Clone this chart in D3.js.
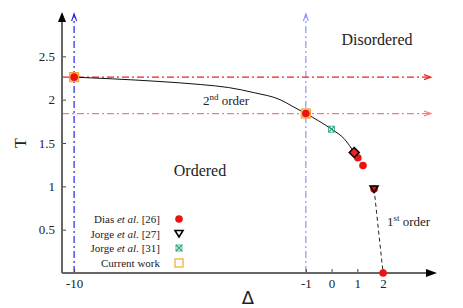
<!DOCTYPE html>
<html>
<head>
<meta charset="utf-8">
<script src="https://cdn.jsdelivr.net/npm/d3@7"></script>
<style>
  body { margin: 0; background: #fff; }
  text { font-family: "Liberation Serif", "Times New Roman", serif; fill: #222; }
</style>
</head>
<body>
<div id="my_dataviz"></div>
<script>
// phase diagram data
var xTicks = [-10, -1, 0, 1, 2];
var yTicks = [0.5, 1, 1.5, 2, 2.5];

// 2nd order line
var lineDelta = [-10, -8.5, -6.7, -5.1, -4, -3, -2, -1.5, -1, -0.5, 0, 0.5, 0.88];
var lineT     = [2.26, 2.24, 2.21, 2.175, 2.14, 2.08, 2.0, 1.92, 1.84, 1.755, 1.66, 1.545, 1.39];

// 1st order line
var firstDelta = [1.65, 2.0];
var firstT     = [0.97, 0.0];

var diasDelta = [-10, -1, 1.02, 1.22, 1.65, 2.0];
var diasT     = [2.26, 1.84, 1.33, 1.24, 0.97, 0.0];
var jorge27Delta = [1.65];
var jorge27T     = [0.97];
var jorge31Delta = [0];
var jorge31T     = [1.66];
var currentDelta = [-10, -1];
var currentT     = [2.26, 1.84];
var tcpDelta = [0.88];
var tcpT     = [1.39];

// dash-dot guide lines
var guideDelta = [-10, -1];
var guideT = [2.26, 1.84];

var legendNames = ["Dias et al. [26]", "Jorge et al. [27]", "Jorge et al. [31]", "Current work"];

var margin = {top: 13, right: 31, bottom: 35, left: 62},
    width = 463 - margin.left - margin.right,
    height = 308 - margin.top - margin.bottom;

var svg = d3.select("#my_dataviz")
  .append("svg")
  .attr("width", 463)
  .attr("height", 308)
  .append("g")
  .attr("transform", "translate(" + margin.left + "," + margin.top + ")");

var x = d3.scaleLinear().domain([-10.47, 3.9]).range([0, width]);
var y = d3.scaleLinear().domain([0, 3]).range([height, 0]);

function pts(a, b) { return a.map(function(d, i) { return [d, b[i]]; }); }

// guide lines
var guideCol = ["#ee2222", "#ff7777"];
var vCol = ["#2222ee", "#8f8fff"];
guideDelta.forEach(function(d, i) {
  svg.append("line")
    .attr("x1", x(d)).attr("x2", x(d))
    .attr("y1", height).attr("y2", 1)
    .style("stroke", vCol[i]).style("stroke-width", 1.2)
    .style("stroke-dasharray", "7,3,2,3");
  svg.append("path")
    .attr("d", "M" + (x(d) - 2.5) + ",8 L" + x(d) + ",1 L" + (x(d) + 2.5) + ",8")
    .style("fill", "none").style("stroke", vCol[i]).style("stroke-width", 1.1);
});
guideT.forEach(function(t, i) {
  svg.append("line")
    .attr("x1", 0).attr("x2", width - 1)
    .attr("y1", y(t)).attr("y2", y(t))
    .style("stroke", guideCol[i]).style("stroke-width", 1.2)
    .style("stroke-dasharray", "7,3,2,3");
  svg.append("path")
    .attr("d", "M" + (width - 8) + "," + (y(t) - 2.5) + " L" + (width - 1) + "," + y(t) + " L" + (width - 8) + "," + (y(t) + 2.5))
    .style("fill", "none").style("stroke", guideCol[i]).style("stroke-width", 1.1);
});

// axes
var xAxis = svg.append("g")
  .attr("transform", "translate(0," + height + ")")
  .call(d3.axisBottom(x).tickValues(xTicks).tickSize(-4).tickPadding(6).tickFormat(function(d) { return String(d); }));
xAxis.select(".domain").remove();
var yAxis = svg.append("g")
  .call(d3.axisLeft(y).tickValues(yTicks).tickSize(-4).tickPadding(7).tickFormat(function(d) { return String(d); }));
yAxis.select(".domain").remove();
svg.selectAll(".tick text").style("font-size", "13px")
  .style("font-family", "'Liberation Serif', 'Times New Roman', serif").style("fill", "#222");
svg.selectAll(".tick line").style("stroke", "#444");

svg.append("line").attr("x1", 0).attr("x2", width).attr("y1", height).attr("y2", height)
  .style("stroke", "#666").style("stroke-width", 2);
svg.append("line").attr("x1", 0).attr("x2", 0).attr("y1", height).attr("y2", 6)
  .style("stroke", "#666").style("stroke-width", 2);
svg.append("path").attr("d", "M" + (width - 6) + "," + (height - 4) + " L" + (width + 5) + "," + height + " L" + (width - 6) + "," + (height + 4) + "Z")
  .style("fill", "#000");
svg.append("path").attr("d", "M-4,9 L0,-1 L4,9Z").style("fill", "#000");

// transition lines
svg.append("path")
  .datum(pts(lineDelta, lineT))
  .attr("d", d3.line().x(function(d) { return x(d[0]); }).y(function(d) { return y(d[1]); }).curve(d3.curveMonotoneX))
  .style("fill", "none").style("stroke", "#111").style("stroke-width", 1);
svg.append("path")
  .datum(pts(firstDelta, firstT))
  .attr("d", d3.line().x(function(d) { return x(d[0]); }).y(function(d) { return y(d[1]); }))
  .style("fill", "none").style("stroke", "#222").style("stroke-width", 1)
  .style("stroke-dasharray", "4,3");

// markers
var sq = d3.symbol().type(d3.symbolSquare).size(85);
svg.selectAll(".cur").data(pts(currentDelta, currentT)).enter().append("path")
  .attr("transform", function(d) { return "translate(" + x(d[0]) + "," + y(d[1]) + ")"; })
  .attr("d", sq).style("fill", "#f7c27a").style("stroke", "#f0a030").style("stroke-width", 1);

svg.selectAll(".dias").data(pts(diasDelta, diasT)).enter().append("circle")
  .attr("cx", function(d) { return x(d[0]); }).attr("cy", function(d) { return y(d[1]); })
  .attr("r", 3.8).style("fill", "#ee1111");

svg.selectAll(".tcp").data(pts(tcpDelta, tcpT)).enter().append("path")
  .attr("transform", function(d) { return "translate(" + x(d[0]) + "," + y(d[1]) + ") rotate(45)"; })
  .attr("d", d3.symbol().type(d3.symbolSquare).size(50))
  .style("fill", "#ee2222").style("stroke", "#000").style("stroke-width", 1.5);

var tri = "M-4,-3 L4,-3 L0,3.5Z";
svg.selectAll(".j27").data(pts(jorge27Delta, jorge27T)).enter().append("path")
  .attr("transform", function(d) { return "translate(" + x(d[0]) + "," + y(d[1]) + ")"; })
  .attr("d", tri).style("fill", "none").style("stroke", "#000").style("stroke-width", 1.6);

function star(g, cx, cy) {
  g.append("rect").attr("x", cx - 3).attr("y", cy - 3).attr("width", 6).attr("height", 6)
    .style("fill", "none").style("stroke", "#2aa080").style("stroke-width", 0.8);
  g.append("path").attr("d", "M" + (cx - 3) + "," + (cy - 3) + "L" + (cx + 3) + "," + (cy + 3) + "M" + (cx + 3) + "," + (cy - 3) + "L" + (cx - 3) + "," + (cy + 3))
    .style("stroke", "#2aa080").style("stroke-width", 1.2);
}
jorge31Delta.forEach(function(d, i) { star(svg, x(d), y(jorge31T[i])); });

// region labels
svg.append("text").attr("x", 315).attr("y", 32).attr("text-anchor", "middle")
  .style("font-size", "16px").text("Disordered");
svg.append("text").attr("x", 138).attr("y", 163).attr("text-anchor", "middle")
  .style("font-size", "16px").text("Ordered");

var l2 = svg.append("text").attr("x", 141).attr("y", 92).style("font-size", "13px");
l2.append("tspan").text("2");
l2.append("tspan").attr("dy", -5).style("font-size", "9px").text("nd");
l2.append("tspan").attr("dy", 5).text(" order");
var l1 = svg.append("text").attr("x", 325).attr("y", 213).style("font-size", "13px");
l1.append("tspan").text("1");
l1.append("tspan").attr("dy", -5).style("font-size", "9px").text("st");
l1.append("tspan").attr("dy", 5).text(" order");

// axis titles
svg.append("text").attr("x", 186).attr("y", height + 31).attr("text-anchor", "middle")
  .style("font-size", "18px").style("font-family", "DejaVu Sans").text("Δ");
svg.append("text").attr("transform", "translate(-36," + y(1.5) + ") rotate(-90)")
  .attr("text-anchor", "middle").style("font-size", "16px").text("T");

// legend
var legY = [219, 233.5, 248, 263];
legendNames.forEach(function(n, i) {
  var t = svg.append("text").attr("x", 160 - margin.left).attr("y", legY[i] - margin.top + 4)
    .attr("text-anchor", "end").style("font-size", "11px");
  var parts = n.split("et al.");
  t.append("tspan").text(parts[0]);
  if (parts.length > 1) {
    t.append("tspan").style("font-style", "italic").text("et al.");
    t.append("tspan").text(parts[1]);
  }
});
var lx = 179 - margin.left;
svg.append("circle").attr("cx", lx).attr("cy", legY[0] - margin.top).attr("r", 3.8).style("fill", "#ee1111");
svg.append("path").attr("transform", "translate(" + lx + "," + (legY[1] - margin.top) + ")")
  .attr("d", tri).style("fill", "none").style("stroke", "#000").style("stroke-width", 1.6);
star(svg, lx, legY[2] - margin.top);
svg.append("rect").attr("x", lx - 4).attr("y", legY[3] - margin.top - 4).attr("width", 8).attr("height", 8)
  .style("fill", "none").style("stroke", "#f0a830").style("stroke-width", 1.2);
</script>
</body>
</html>
